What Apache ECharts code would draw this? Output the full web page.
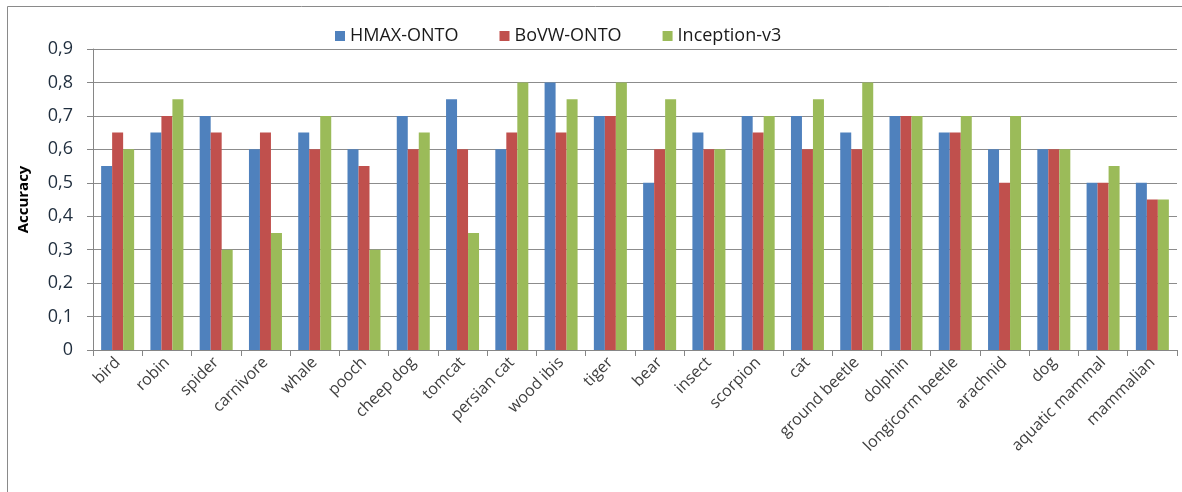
<!DOCTYPE html>
<html>
<head>
<meta charset="utf-8">
<script src="https://cdn.jsdelivr.net/npm/echarts@6/dist/echarts.min.js"></script>
<style>
  html, body { margin: 0; padding: 0; background: #fff; }
  #chart { width: 1182px; height: 492px; }
</style>
</head>
<body>
<div id="chart"></div>
<script>
// categories and accuracy values per method
const categories = ['bird', 'robin', 'spider', 'carnivore', 'whale', 'pooch', 'cheep dog', 'tomcat',
  'persian cat', 'wood ibis', 'tiger', 'bear', 'insect', 'scorpion', 'cat', 'ground beetle',
  'dolphin', 'longicorm beetle', 'arachnid', 'dog', 'aquatic mammal', 'mammalian'];
const hmaxOnto = [0.55, 0.65, 0.7, 0.6, 0.65, 0.6, 0.7, 0.75, 0.6, 0.8, 0.7, 0.5, 0.65, 0.7, 0.7, 0.65, 0.7, 0.65, 0.6, 0.6, 0.5, 0.5];
const bovwOnto = [0.65, 0.7, 0.65, 0.65, 0.6, 0.55, 0.6, 0.6, 0.65, 0.65, 0.7, 0.6, 0.6, 0.65, 0.6, 0.6, 0.7, 0.65, 0.5, 0.6, 0.5, 0.45];
const inceptionV3 = [0.6, 0.75, 0.3, 0.35, 0.7, 0.3, 0.65, 0.35, 0.8, 0.75, 0.8, 0.75, 0.6, 0.7, 0.75, 0.8, 0.7, 0.7, 0.7, 0.6, 0.55, 0.45];
const seriesNames = ['HMAX-ONTO', 'BoVW-ONTO', 'Inception-v3'];
const colors = ['#4F81BD', '#C0504D', '#9BBB59'];

const myChart = echarts.init(document.getElementById('chart'));
const font = '"Open Sans", "Noto Sans", sans-serif';

const makeSeries = (name, data, i) => ({
  name: name,
  type: 'bar',
  data: data,
  barWidth: 11,
  barGap: '0%',
  itemStyle: { color: colors[i] }
});

const options = {
  animation: false,
  textStyle: { fontFamily: font },
  graphic: [{
    type: 'rect',
    shape: { x: 7.5, y: 6.5, width: 1180, height: 490 },
    style: { fill: 'none', stroke: '#8a8a8a', lineWidth: 1 },
    silent: true
  }],
  legend: {
    top: 22,
    left: 330,
    itemWidth: 10,
    itemHeight: 10,
    itemGap: 41,
    icon: 'rect',
    textStyle: { fontSize: 18, color: '#1a1a1a', fontFamily: font }
  },
  grid: { left: 93, right: 5, top: 49, bottom: 142 },
  xAxis: {
    type: 'category',
    data: categories,
    axisLine: { lineStyle: { color: '#868686' } },
    axisTick: { show: true, length: 6, interval: 0, lineStyle: { color: '#868686' } },
    axisLabel: {
      interval: 0,
      rotate: 45,
      fontSize: 16,
      color: '#404040',
      margin: 10,
      fontFamily: font
    }
  },
  yAxis: {
    type: 'value',
    min: 0,
    max: 0.9,
    interval: 0.1,
    name: 'Accuracy',
    nameLocation: 'middle',
    nameGap: 62,
    nameRotate: 90,
    nameTextStyle: { fontSize: 15, fontWeight: 'bold', color: '#000', fontFamily: font },
    axisLine: { show: true, lineStyle: { color: '#868686' } },
    axisTick: { show: true, length: 6, lineStyle: { color: '#868686' } },
    splitLine: { lineStyle: { color: '#8c8c8c', width: 1 } },
    axisLabel: {
      fontSize: 18,
      color: '#1f2d3d',
      margin: 20,
      fontFamily: font,
      formatter: v => v === 0 ? '0' : v.toFixed(1).replace('.', ',')
    }
  },
  series: [
    makeSeries(seriesNames[0], hmaxOnto, 0),
    makeSeries(seriesNames[1], bovwOnto, 1),
    makeSeries(seriesNames[2], inceptionV3, 2)
  ]
};
myChart.setOption(options);
</script>
</body>
</html>
